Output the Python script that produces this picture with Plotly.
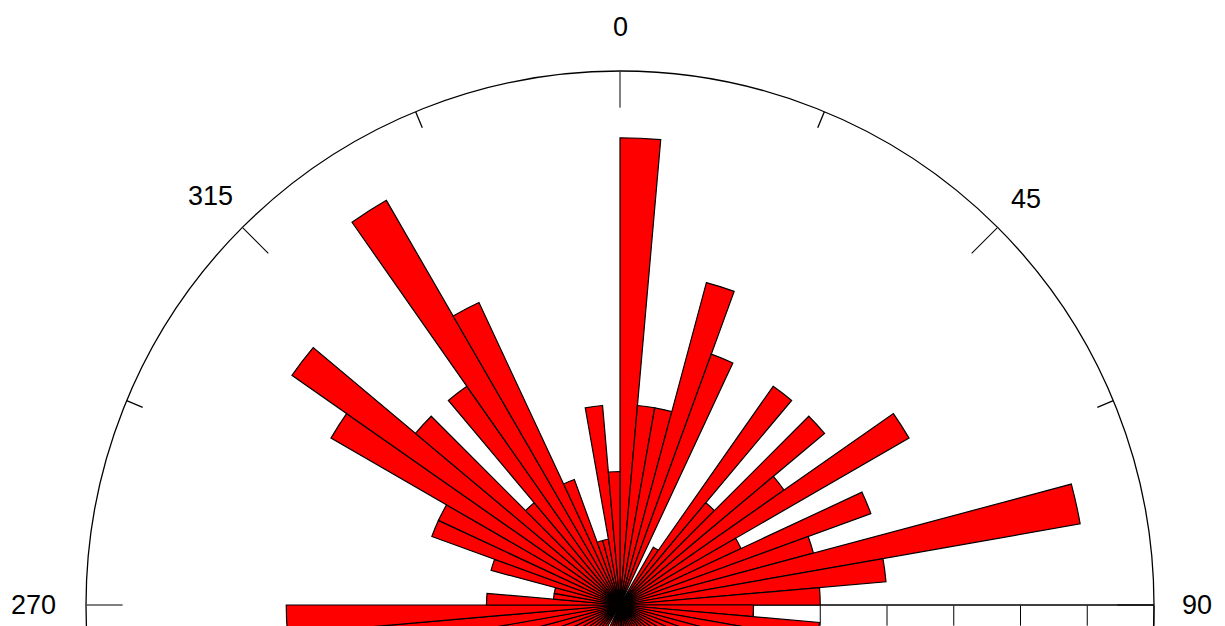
import math
import plotly.graph_objects as go

# ---- data: 5-degree bins (start angle, degrees clockwise from north) ----
bin_starts = list(range(0, 360, 5))
bin_width = 5
counts = [
    7, 3, 3, 5, 4, 0, 1, 4, 2, 4, 3, 5, 2, 4, 3, 7, 4, 3,      # 0 .. 85
    2, 3,                                                      # 90, 95
    3, 2, 4, 1, 3, 2, 5, 2, 3, 1, 4, 2, 3, 6, 2, 4,            # 100 .. 175
    5, 3, 2, 4, 1, 0, 3, 2, 4, 1, 3, 2, 5, 3, 2, 3, 4,         # 180 .. 260
    5, 2, 1, 1, 2, 3, 3, 5, 6, 4, 2, 4, 7, 5, 2, 1, 1, 3, 2,   # 265 .. 355
]
r_max = 8

major_ticks = [0, 45, 90, 135, 180, 225, 270, 315]
minor_ticks = [22.5, 67.5, 112.5, 157.5, 202.5, 247.5, 292.5, 337.5]
minor_len = 0.26

label_angles = [0, 45, 90, 270, 315]
label_texts = ["0", "45", "90", "270", "315"]
label_radius = [8.66, 8.6, 8.64, 8.79, 8.67]

theta_centers = [s + bin_width / 2 for s in bin_starts]

fig = go.Figure()
fig.add_trace(go.Barpolar(
    r=counts,
    theta=theta_centers,
    width=[bin_width] * len(counts),
    marker=dict(color="#ff0000", line=dict(color="black", width=1.2)),
    showlegend=False,
    hoverinfo="skip",
))

# minor angular ticks (shorter, inward)
mt_r, mt_t = [], []
for a in minor_ticks:
    mt_r += [r_max, r_max - minor_len, None]
    mt_t += [a, a, None]
fig.add_trace(go.Scatterpolar(
    r=mt_r, theta=mt_t, mode="lines",
    line=dict(color="black", width=1.3),
    showlegend=False, hoverinfo="skip", cliponaxis=False,
))

# angular labels as annotations placed around the (square) polar domain;
# polar domain fills the plot area, so its centre is paper (0.5, 0.5) and
# the outer circle has a radius of 0.5 in paper units.
annotations = []
for a, t, rl in zip(label_angles, label_texts, label_radius):
    frac = 0.5 * rl / r_max
    annotations.append(dict(
        xref="paper", yref="paper",
        x=0.5 + frac * math.sin(math.radians(a)),
        y=0.5 + frac * math.cos(math.radians(a)),
        text=t, showarrow=False, xanchor="center", yanchor="middle",
        font=dict(family="Liberation Sans, Arial, sans-serif", size=27, color="black"),
    ))

fig.update_layout(
    width=1225, height=1210,
    margin=dict(l=86, r=71, t=71, b=71, pad=0),
    paper_bgcolor="white",
    plot_bgcolor="white",
    annotations=annotations,
    polar=dict(
        domain=dict(x=[0, 1], y=[0, 1]),
        bgcolor="white",
        angularaxis=dict(
            rotation=90, direction="clockwise",
            showgrid=False, showline=True, linecolor="black", linewidth=1.3,
            ticks="inside", ticklen=36, tickwidth=1.3, tickcolor="black",
            tickmode="array", tickvals=major_ticks, showticklabels=False,
        ),
        radialaxis=dict(
            range=[0, r_max], angle=0, side="clockwise",
            showgrid=False, showline=True, linecolor="black", linewidth=1.3,
            ticks="outside", ticklen=20, tickwidth=1.3, tickcolor="black",
            tick0=0, dtick=1, showticklabels=False,
            layer="below traces",
        ),
    ),
)

fig.write_html(
    "out.html",
    config={"displayModeBar": False},
    post_script="document.body.style.margin='0';document.body.style.overflow='hidden';",
)
